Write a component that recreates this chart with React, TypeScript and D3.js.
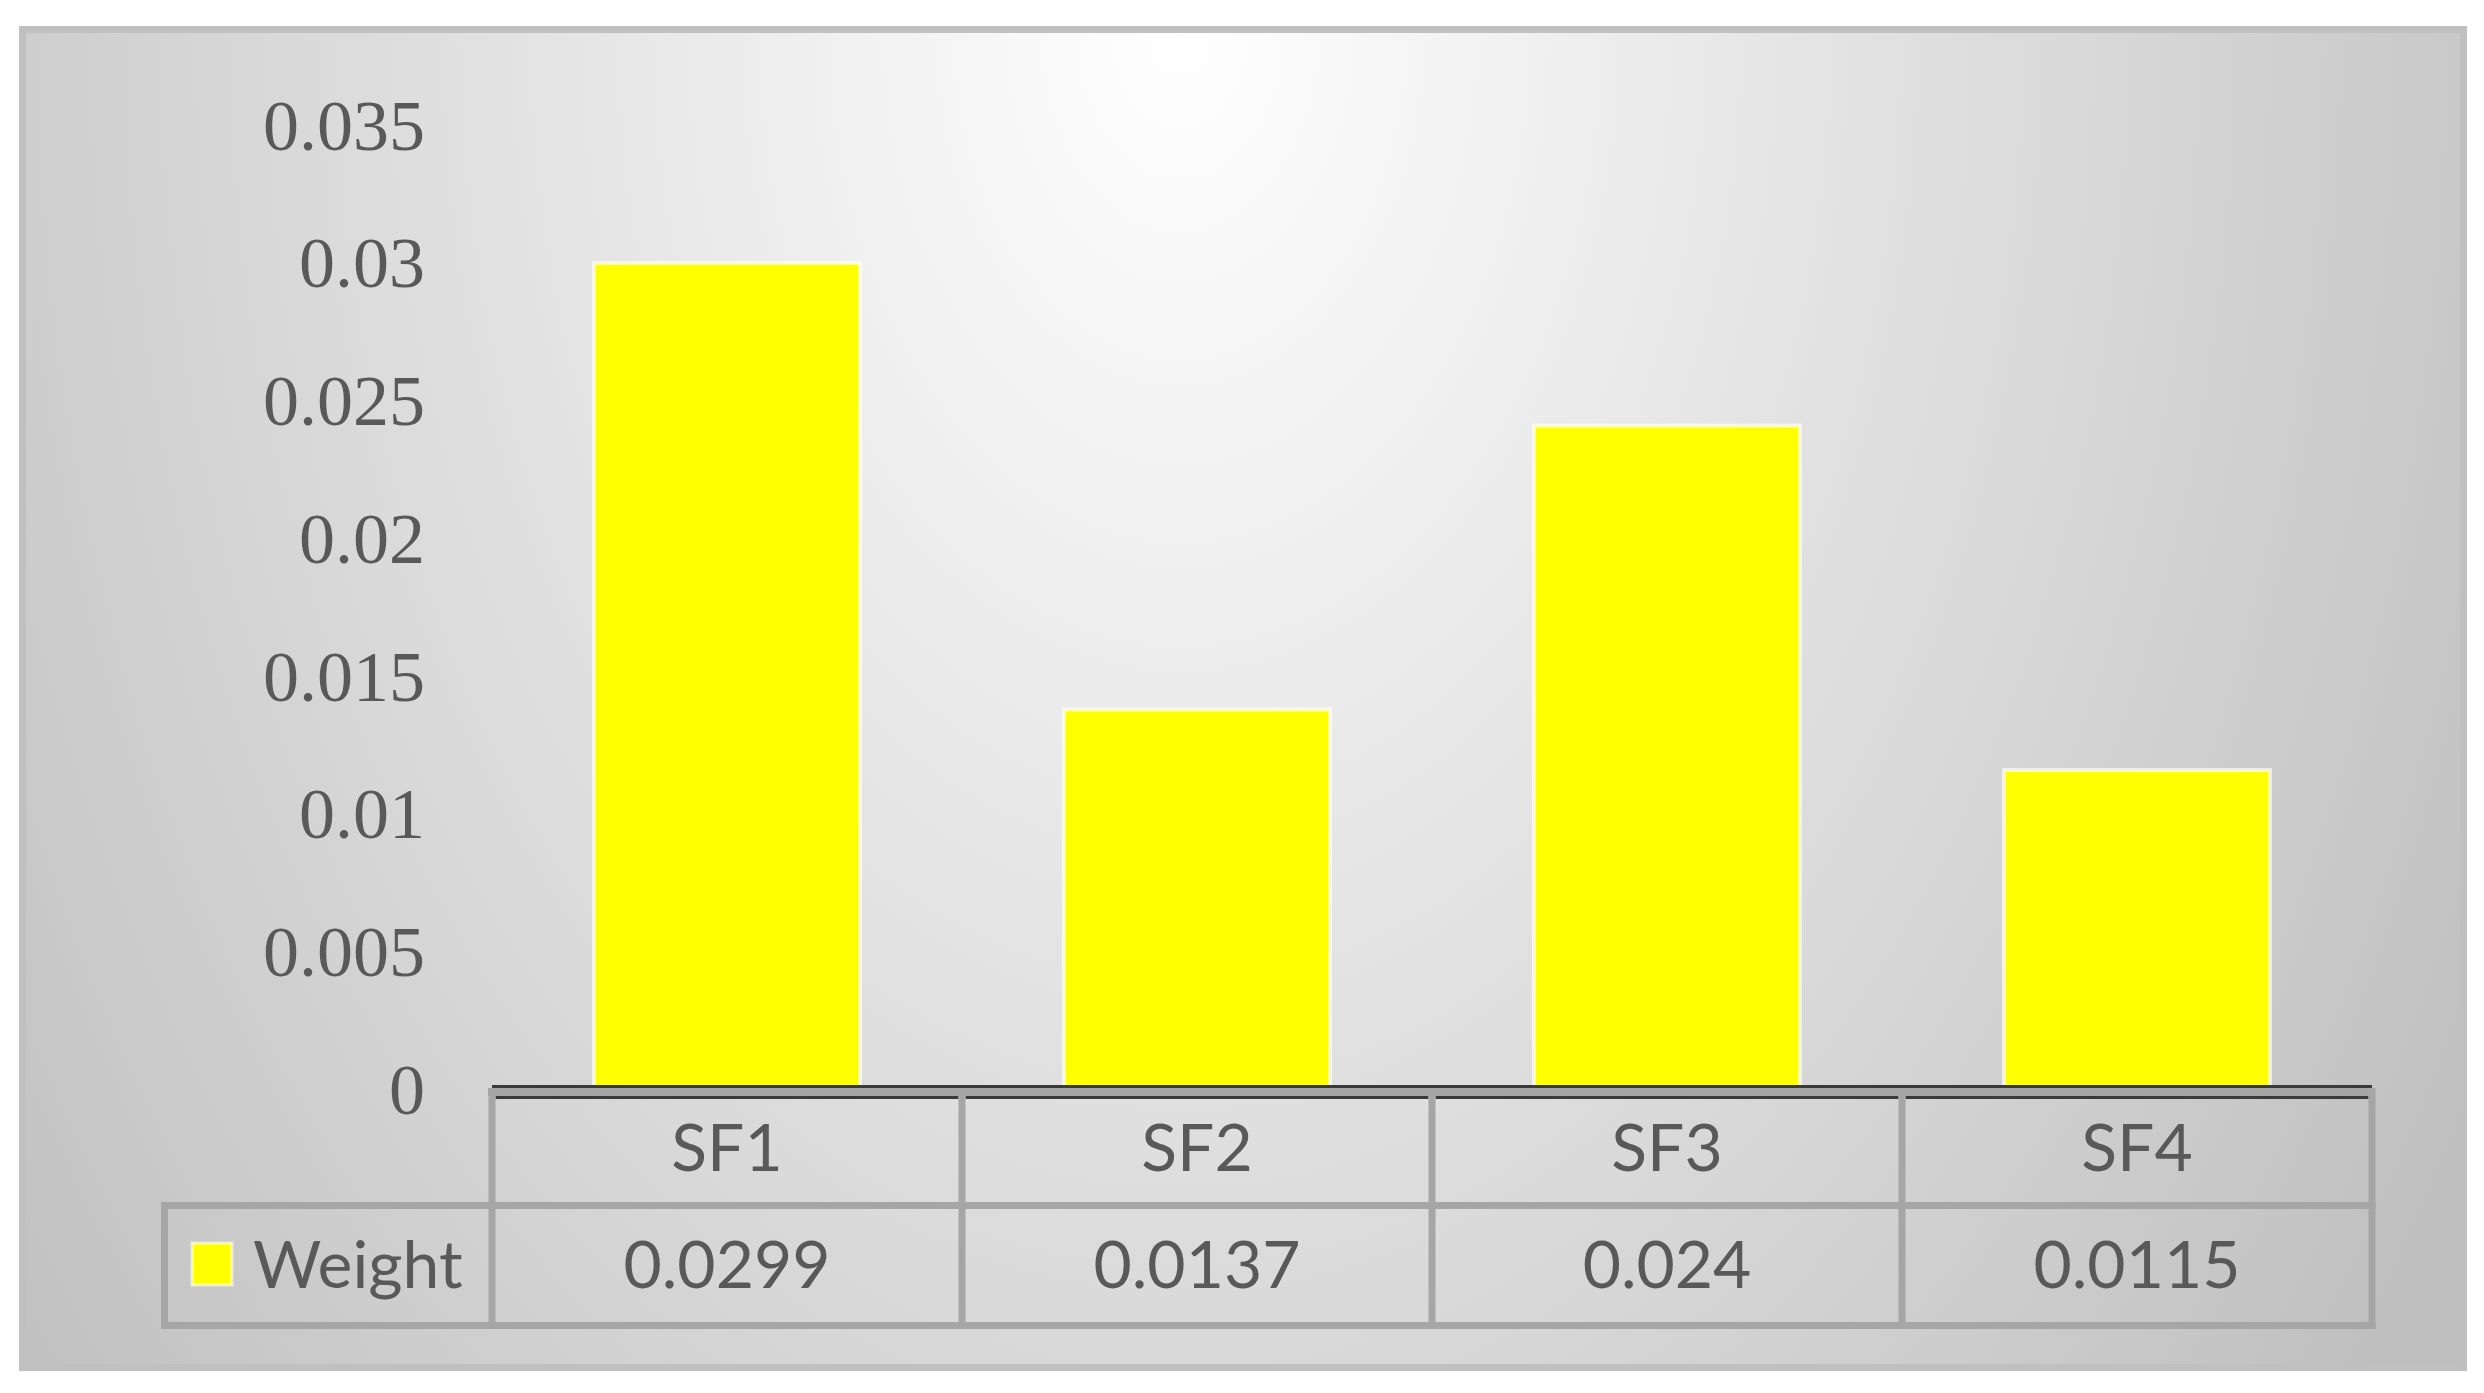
import React from "react";
import * as d3 from "d3";

const categories = ["SF1", "SF2", "SF3", "SF4"];
const weights = [0.0299, 0.0137, 0.024, 0.0115];
const weightLabels = ["0.0299", "0.0137", "0.024", "0.0115"];
const yTicks = [0, 0.005, 0.01, 0.015, 0.02, 0.025, 0.03, 0.035];
const yTickLabels = ["0", "0.005", "0.01", "0.015", "0.02", "0.025", "0.03", "0.035"];
const seriesName = "Weight";

const W = 2484;
const H = 1393;

export default function App() {
  const x = d3
    .scaleBand<string>()
    .domain(categories)
    .range([492, 2372])
    .paddingInner(0.434)
    .paddingOuter(0.217);
  const y = d3.scaleLinear().domain([0, 0.035]).range([1087, 122.5]);

  const step = x.step();
  const colEdges = categories.map((c) => (x(c) as number) - x.paddingOuter() * step);
  colEdges.push(2372);

  const gray = "#a6a6a6";
  const dark = "#3a3a3a";
  const txt = "#595959";
  const sans = "Lato, 'Open Sans', sans-serif";
  const serif = "'Liberation Serif', 'Times New Roman', serif";

  const tableTop = 1088;
  const sepY = 1205.5;
  const bottomY = 1325.5;
  const legendLeft = 164.5;

  return (
    <svg
      width={W}
      height={H}
      style={{ position: "absolute", left: 0, top: 0, display: "block" }}
    >
      <defs>
        <radialGradient
          id="bg"
          gradientUnits="userSpaceOnUse"
          cx={0}
          cy={0}
          r={1}
          gradientTransform="translate(1180,27) scale(1504,2208)"
        >
          <stop offset="0" stopColor="#ffffff" />
          <stop offset="1" stopColor="#bfbfbf" />
        </radialGradient>
      </defs>
      <rect x={0} y={0} width={W} height={H} fill="#ffffff" />
      <rect x={19} y={26} width={2448} height={1345} fill="#c0c0c0" />
      <rect x={26} y={33} width={2434} height={1331} fill="url(#bg)" />

      {/* y tick labels */}
      {yTicks.map((t, i) => (
        <text
          key={"yt" + i}
          x={425}
          y={y(t) + 27}
          textAnchor="end"
          fontFamily={serif}
          fontSize={72}
          fill={txt}
        >
          {yTickLabels[i]}
        </text>
      ))}

      {/* bars */}
      {categories.map((c, i) => (
        <rect
          key={"bar" + c}
          x={x(c)}
          y={y(weights[i])}
          width={x.bandwidth()}
          height={y(0) - y(weights[i])}
          fill="#ffff00"
          stroke="#ffffff"
          strokeOpacity={0.65}
          strokeWidth={4}
        />
      ))}

      {/* axis line */}
      <line x1={492} x2={2372} y1={1086.5} y2={1086.5} stroke={dark} strokeWidth={3} />

      {/* data table */}
      <rect x={488} y={tableTop} width={2375 - 488} height={8} fill={gray} />
      {categories.map((c, i) => (
        <line
          key={"dl" + c}
          x1={colEdges[i] + 3.5}
          x2={colEdges[i + 1] - 3.5}
          y1={1097.5}
          y2={1097.5}
          stroke={dark}
          strokeWidth={3}
        />
      ))}
      {colEdges.map((e, i) => (
        <line
          key={"vl" + i}
          x1={e}
          x2={e}
          y1={tableTop}
          y2={bottomY + 3.5}
          stroke={gray}
          strokeWidth={7}
        />
      ))}
      <line x1={legendLeft} x2={legendLeft} y1={sepY - 3.5} y2={bottomY + 3.5} stroke={gray} strokeWidth={7} />
      <line x1={legendLeft - 3.5} x2={2375.5} y1={sepY} y2={sepY} stroke={gray} strokeWidth={7} />
      <line x1={legendLeft - 3.5} x2={2375.5} y1={bottomY} y2={bottomY} stroke={gray} strokeWidth={7} />

      {/* header row */}
      {categories.map((c) => (
        <text
          key={"cat" + c}
          x={(x(c) as number) + x.bandwidth() / 2}
          y={1171}
          textAnchor="middle"
          fontFamily={sans}
          fontSize={66}
          fill={txt}
        >
          {c}
        </text>
      ))}

      {/* legend cell */}
      <rect x={192} y={1243} width={40} height={42} fill="#ffff00" stroke="#ffffff" strokeOpacity={0.6} strokeWidth={3} />
      <text x={253} y={1288} fontFamily={sans} fontSize={66} fill={txt}>
        {seriesName}
      </text>

      {/* value row */}
      {categories.map((c, i) => (
        <text
          key={"val" + c}
          x={(x(c) as number) + x.bandwidth() / 2}
          y={1288}
          textAnchor="middle"
          fontFamily={sans}
          fontSize={66}
          fill={txt}
        >
          {weightLabels[i]}
        </text>
      ))}
    </svg>
  );
}
